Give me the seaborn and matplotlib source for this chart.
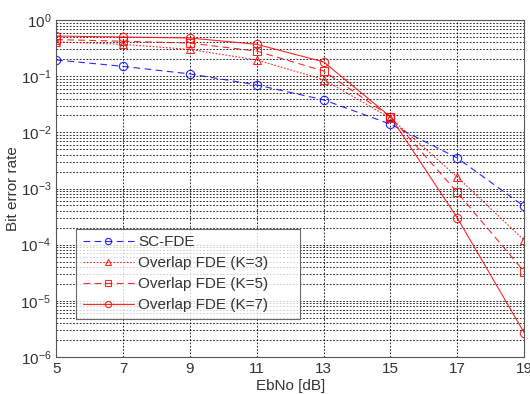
import numpy as np
import pandas as pd
import matplotlib
matplotlib.use("Agg")
import matplotlib.pyplot as plt
import seaborn as sns

ebno = [5, 7, 9, 11, 13, 15, 17, 19]
ber_sc = [0.195, 0.15, 0.11, 0.07, 0.038, 0.014, 0.0035, 4.8e-4]
ber_k3 = [0.41, 0.37, 0.30, 0.195, 0.087, 0.018, 0.0016, 1.2e-4]
ber_k5 = [0.45, 0.42, 0.39, 0.28, 0.124, 0.019, 8.5e-4, 3.3e-5]
ber_k7 = [0.52, 0.50, 0.48, 0.37, 0.18, 0.019, 3.0e-4, 2.7e-6]

series = [
    ("SC-FDE", ber_sc, "#0000ff", (0, (6, 4)), "o"),
    ("Overlap FDE (K=3)", ber_k3, "#ff0000", (0, (1.5, 1.5)), "^"),
    ("Overlap FDE (K=5)", ber_k5, "#ff0000", (0, (6, 4)), "s"),
    ("Overlap FDE (K=7)", ber_k7, "#ff0000", "-", "o"),
]

sns.set_style("white")
plt.rcParams["font.family"] = ["Liberation Sans", "DejaVu Sans"]

fig = plt.figure(figsize=(5.3, 3.94), dpi=100)
ax = fig.add_axes([0.106, 0.094, 0.883, 0.855])

for name, vals, col, ls, mk in series:
    df = pd.DataFrame({"ebno": ebno, "ber": vals})
    sns.lineplot(data=df, x="ebno", y="ber", ax=ax, color=col, linestyle=ls,
                 marker=mk, markersize=6, markerfacecolor="none",
                 markeredgecolor=col, markeredgewidth=0.8, linewidth=0.8,
                 label=name, alpha=0.85)

ax.set_yscale("log")
ax.set_xlim(5, 19)
ax.set_ylim(1e-6, 1)
ax.set_xticks(ebno)
ax.set_yticks([1e-6, 1e-5, 1e-4, 1e-3, 1e-2, 1e-1, 1e0])
ax.grid(True, which="major", color="black", linestyle=(0, (2, 2)), linewidth=0.6)
ax.grid(True, which="minor", axis="y", color="black", linestyle=(0, (2, 2)), linewidth=0.6)
ax.tick_params(labelsize=11, colors="#333333", direction="in", length=3)
for s in ax.spines.values():
    s.set_color("#555555")
    s.set_linewidth(0.8)

ax.set_xlabel("EbNo [dB]", fontsize=11, color="#333333", labelpad=2)
ax.set_ylabel("Bit error rate", fontsize=11, color="#333333")
ax.yaxis.set_label_coords(-0.077, 0.5)

leg = ax.legend(loc="lower left", bbox_to_anchor=(0.043, 0.113, 0.479, 0.258),
                mode="expand", fontsize=11, frameon=True, fancybox=False,
                edgecolor="#444444", handlelength=3.3, handletextpad=0.3,
                borderpad=0.45, labelspacing=0.45, markerscale=0.75,
                borderaxespad=0)
leg.get_frame().set_linewidth(0.8)
for t in leg.get_texts():
    t.set_color("#333333")

fig.savefig("out.png", dpi=100)
